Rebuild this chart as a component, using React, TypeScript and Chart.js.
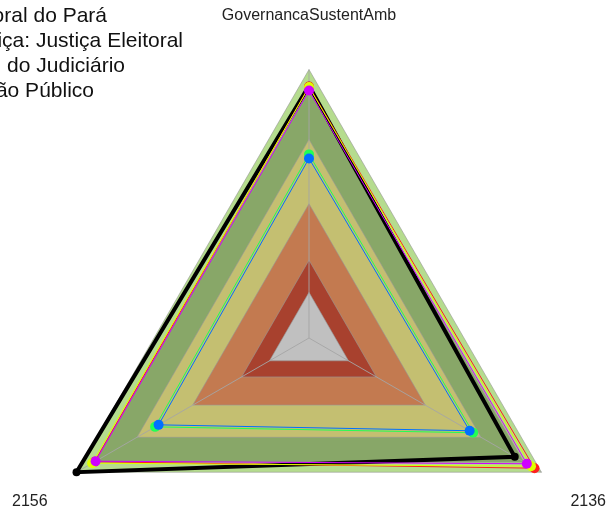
import React, { useEffect, useRef } from 'react';
import { Chart, registerables } from 'chart.js';

Chart.register(...registerables);

// Axis labels (clockwise from top)
const axisLabels = ['GovernancaSustentAmb', '2136', '2156'];

// Data series values (top, bottom-right, bottom-left)
const seriesBlue = [66.9, 69.1, 64.7];
const seriesMagenta = [92.2, 93.7, 91.8];
const seriesGreen = [68.4, 70.6, 66.2];
const seriesYellow = [93.5, 95.5, 93.3];
const seriesRed = [93.7, 97, 92.2];
const seriesBlack = [94, 88.5, 100];

// Background band levels (inner to outer)
const bandLevels = [17, 29, 50, 74, 92.5, 100];
const bandColors = ['#c0c0c0', '#a8412e', '#c37a50', '#c4bf71', '#88a768', '#b5dc8e'];

// Legend text lines (left part lies outside the visible window)
const legendLines = [
  'Tribunal Regional Eleitoral do Pará',
  'Segmento de Justiça: Justiça Eleitoral',
  'Conselho Nacional do Judiciário',
  'Média Órgão Público',
];
const legendRightEdges = [107, 183, 125, 94];

const FONT = "'Liberation Sans', Arial, sans-serif";

// The canvas is larger than the window and shifted up-left
const CANVAS_W = 671;
const CANVAS_H = 671;
const OFFSET_X = 26;
const OFFSET_Y = 30;

export default function App() {
  const ref = useRef<HTMLCanvasElement | null>(null);

  useEffect(() => {
    if (!ref.current) return;

    const series = [
      { label: legendLines[0], data: seriesBlue, color: '#0070ff', width: 1, radius: 5 },
      { label: legendLines[1], data: seriesMagenta, color: '#d000ff', width: 1, radius: 5 },
      { label: legendLines[2], data: seriesGreen, color: '#22ff55', width: 1, radius: 5 },
      { label: legendLines[3], data: seriesYellow, color: '#ddff00', width: 1, radius: 5 },
      { label: 'Red', data: seriesRed, color: '#ff2020', width: 1, radius: 5 },
      { label: 'Black', data: seriesBlack, color: '#000000', width: 4, radius: 4 },
    ];

    const seriesDatasets = series.map((s) => ({
      label: s.label,
      data: s.data,
      borderColor: s.color,
      backgroundColor: s.color,
      pointBackgroundColor: s.color,
      pointBorderColor: s.color,
      pointRadius: s.radius,
      pointBorderWidth: 0,
      borderWidth: s.width,
      fill: false,
    }));

    const bandDatasets = bandLevels.map((lvl, i) => ({
      label: 'band' + i,
      data: axisLabels.map(() => lvl),
      borderColor: 'rgba(150,150,150,0.6)',
      backgroundColor: bandColors[i],
      borderWidth: 1,
      pointRadius: 0,
      fill: 'origin',
    }));

    const grayBandIndex = seriesDatasets.length; // innermost band, drawn last among bands

    const angleLinesPlugin = {
      id: 'angleLinesOverBands',
      afterDatasetDraw(chart: any, args: any) {
        if (args.index !== grayBandIndex) return;
        const scale = chart.scales.r;
        const ctx = chart.ctx;
        ctx.save();
        ctx.strokeStyle = 'rgba(165,165,165,0.9)';
        ctx.lineWidth = 1;
        for (let i = 0; i < axisLabels.length; i++) {
          const p = scale.getPointPosition(i, scale.drawingArea);
          ctx.beginPath();
          ctx.moveTo(scale.xCenter, scale.yCenter);
          ctx.lineTo(p.x, p.y);
          ctx.stroke();
        }
        ctx.restore();
      },
    };

    const legendTextPlugin = {
      id: 'legendText',
      afterDraw(chart: any) {
        const ctx = chart.ctx;
        ctx.save();
        ctx.font = `21px ${FONT}`;
        ctx.fillStyle = '#111';
        ctx.textAlign = 'right';
        ctx.textBaseline = 'alphabetic';
        legendLines.forEach((t, i) => {
          ctx.fillText(t, OFFSET_X + legendRightEdges[i], OFFSET_Y + 21.7 + i * 25);
        });
        ctx.restore();
      },
    };

    const chart = new Chart(ref.current, {
      type: 'radar',
      data: {
        labels: axisLabels,
        datasets: [...seriesDatasets, ...bandDatasets] as any,
      },
      options: {
        animation: false,
        responsive: false,
        devicePixelRatio: 1,
        plugins: {
          legend: { display: false },
          tooltip: { enabled: false },
        },
        elements: { line: { tension: 0 } },
        scales: {
          r: {
            min: 0,
            max: 100,
            ticks: { display: false },
            grid: { display: false },
            angleLines: { display: false },
            pointLabels: {
              color: '#222',
              font: { size: 16, family: FONT, lineHeight: 1.61 },
              padding: (ctx: any) => (ctx.index === 0 ? 40.8 : 33.4),
            },
          },
        },
      } as any,
      plugins: [angleLinesPlugin, legendTextPlugin],
    });

    return () => chart.destroy();
  }, []);

  return (
    <div style={{ position: 'fixed', left: 0, top: 0, width: 609, height: 513, overflow: 'hidden', background: '#fff' }}>
      <canvas
        ref={ref}
        width={CANVAS_W}
        height={CANVAS_H}
        style={{ position: 'absolute', left: -OFFSET_X, top: -OFFSET_Y, display: 'block' }}
      />
    </div>
  );
}
